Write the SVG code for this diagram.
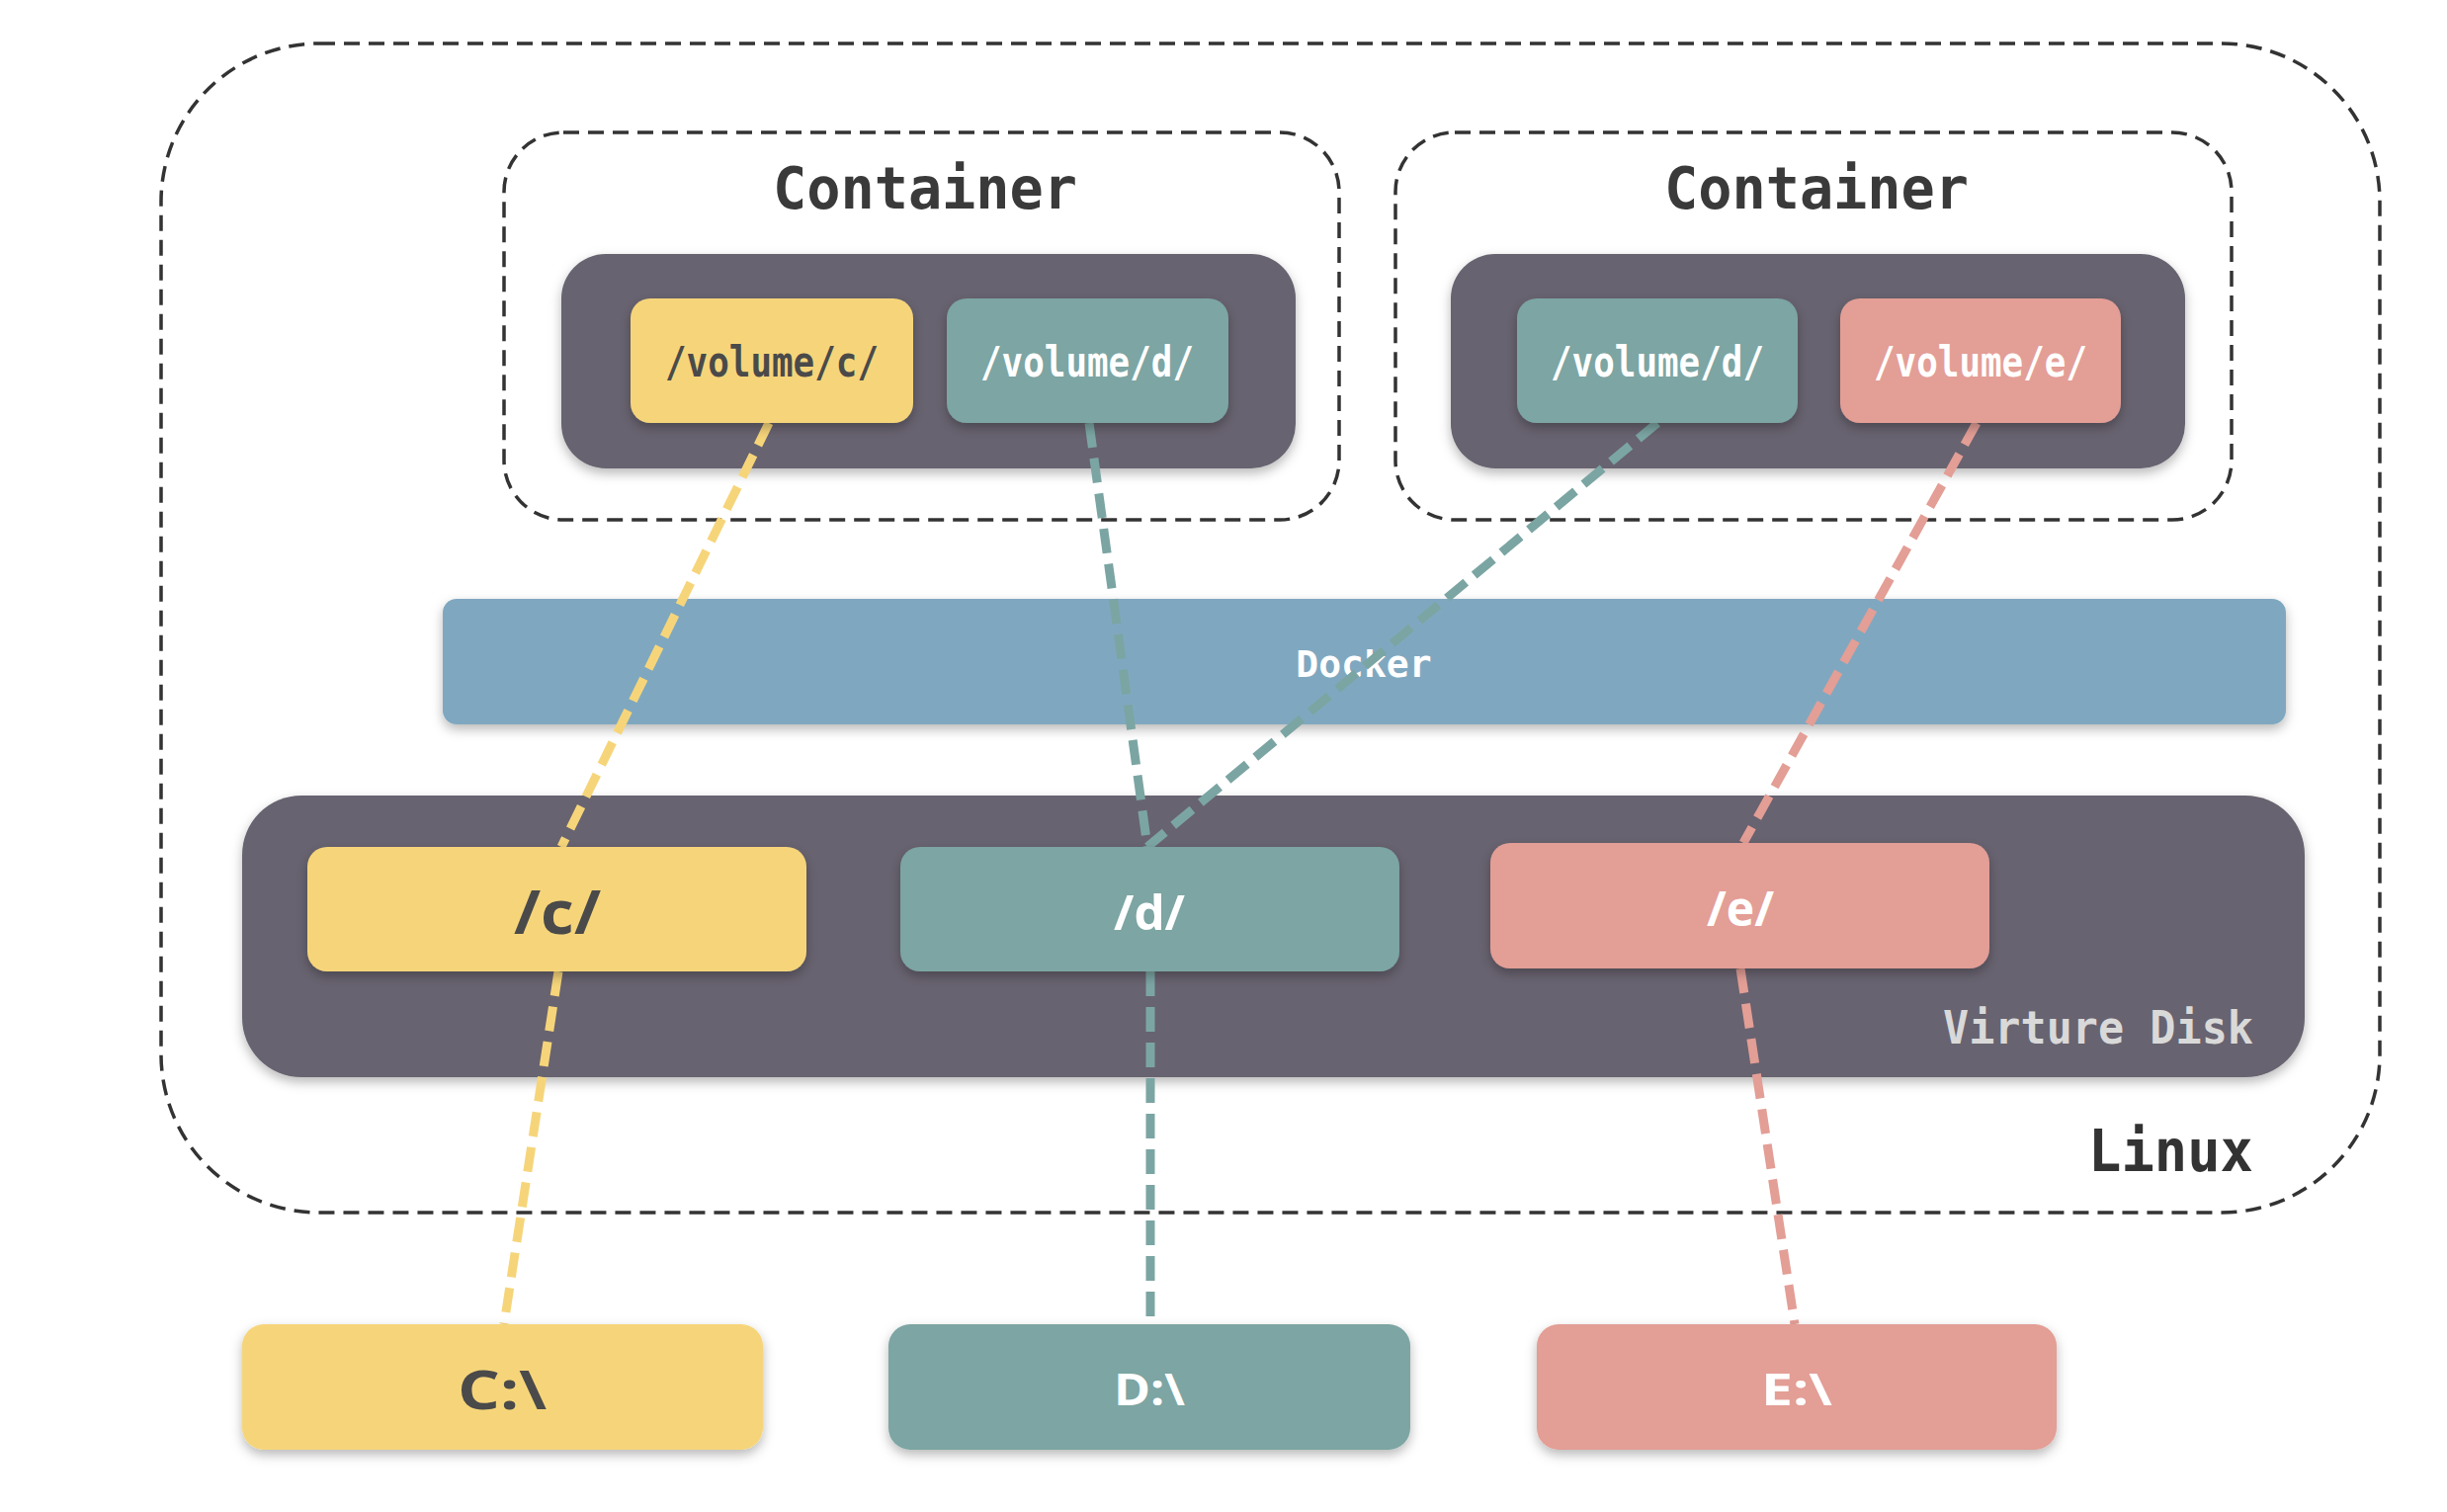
<svg xmlns="http://www.w3.org/2000/svg" width="2476" height="1530" viewBox="0 0 2476 1530">
<defs>
<filter id="sh" x="-10%" y="-20%" width="120%" height="150%">
<feDropShadow dx="0" dy="5" stdDeviation="6" flood-color="#000" flood-opacity="0.28"/>
</filter>
<style>
.outline{fill:none;stroke:#333;stroke-width:3.5;stroke-dasharray:16 9}
.dark{fill:#67646f}
.yel{fill:#f6d57a}
.teal{fill:#7ba5a3}
.pink{fill:#e39e96}
.dock{fill:#7fa8c0}
.mono{font-family:"DejaVu Sans Mono","Liberation Mono",monospace;font-weight:bold}
.sans{font-family:"Open Sans","Liberation Sans",sans-serif;font-weight:bold}
.c{stroke-width:9;stroke-dasharray:25 11;fill:none}
.cy{stroke:#f6d57a}.ct{stroke:#7ba5a3}.cp{stroke:#e39e96}
</style>
</defs>
<rect width="2476" height="1530" fill="#fff"/>

<g id="linux">
<rect class="outline" x="163" y="44" width="2245" height="1183" rx="160"/>
<text class="mono" x="2280" y="1185" font-size="58" fill="#333" text-anchor="end" textLength="167" lengthAdjust="spacingAndGlyphs">Linux</text>
</g>

<g id="container1">
<rect class="outline" x="510" y="134" width="845" height="392" rx="60"/>
<text class="mono" x="936" y="211" font-size="58" fill="#3a3a3a" text-anchor="middle" textLength="308" lengthAdjust="spacingAndGlyphs">Container</text>
<rect class="dark" x="568" y="257" width="743" height="217" rx="45" filter="url(#sh)"/>
</g>

<g id="container2">
<rect class="outline" x="1412" y="134" width="846" height="392" rx="60"/>
<text class="mono" x="1838" y="211" font-size="58" fill="#3a3a3a" text-anchor="middle" textLength="308" lengthAdjust="spacingAndGlyphs">Container</text>
<rect class="dark" x="1468" y="257" width="743" height="217" rx="45" filter="url(#sh)"/>
</g>

<g id="docker">
<rect class="dock" x="448" y="606" width="1865" height="127" rx="14" filter="url(#sh)"/>
<text class="mono" x="1380" y="672" font-size="38" fill="#fff" text-anchor="middle" dominant-baseline="central">Docker</text>
</g>

<g id="virtual-disk">
<rect class="dark" x="245" y="805" width="2087" height="285" rx="60" filter="url(#sh)"/>
<text class="mono" x="2280" y="1056" font-size="46" fill="#d9d9d9" text-anchor="end" textLength="314" lengthAdjust="spacingAndGlyphs">Virture Disk</text>
</g>

<g id="connectors">
<line class="c cy" x1="778" y1="428" x2="568" y2="857"/>
<line class="c cy" x1="565" y1="983" x2="510" y2="1340"/>
<line class="c ct" x1="1102" y1="428" x2="1161" y2="857"/>
<line class="c ct" x1="1677" y1="428" x2="1161" y2="857"/>
<line class="c ct" x1="1164" y1="983" x2="1164" y2="1340"/>
<line class="c cp" x1="2000" y1="428" x2="1764" y2="853"/>
<line class="c cp" x1="1761" y1="980" x2="1816" y2="1340"/>
</g>

<g id="vol-c1">
<rect class="yel" x="638" y="302" width="286" height="126" rx="20" filter="url(#sh)"/>
<text class="mono" x="781" y="366" font-size="42" fill="#4a4a4a" text-anchor="middle" dominant-baseline="central" textLength="216" lengthAdjust="spacingAndGlyphs">/volume/c/</text>
</g>
<g id="vol-d1">
<rect class="teal" x="958" y="302" width="285" height="126" rx="20" filter="url(#sh)"/>
<text class="mono" x="1100" y="366" font-size="42" fill="#fff" text-anchor="middle" dominant-baseline="central" textLength="216" lengthAdjust="spacingAndGlyphs">/volume/d/</text>
</g>
<g id="vol-d2">
<rect class="teal" x="1535" y="302" width="284" height="126" rx="20" filter="url(#sh)"/>
<text class="mono" x="1677" y="366" font-size="42" fill="#fff" text-anchor="middle" dominant-baseline="central" textLength="216" lengthAdjust="spacingAndGlyphs">/volume/d/</text>
</g>
<g id="vol-e2">
<rect class="pink" x="1862" y="302" width="284" height="126" rx="20" filter="url(#sh)"/>
<text class="mono" x="2004" y="366" font-size="42" fill="#fff" text-anchor="middle" dominant-baseline="central" textLength="216" lengthAdjust="spacingAndGlyphs">/volume/e/</text>
</g>

<g id="disk-c">
<rect class="yel" x="311" y="857" width="505" height="126" rx="20" filter="url(#sh)"/>
<text class="sans" x="564" y="922" font-size="60" fill="#4a4a4a" text-anchor="middle" dominant-baseline="central" textLength="88" lengthAdjust="spacingAndGlyphs">/c/</text>
</g>
<g id="disk-d">
<rect class="teal" x="911" y="857" width="505" height="126" rx="20" filter="url(#sh)"/>
<text class="sans" x="1163" y="922" font-size="48" fill="#fff" text-anchor="middle" dominant-baseline="central" textLength="72" lengthAdjust="spacingAndGlyphs">/d/</text>
</g>
<g id="disk-e">
<rect class="pink" x="1508" y="853" width="505" height="127" rx="20" filter="url(#sh)"/>
<text class="sans" x="1761" y="918" font-size="48" fill="#fff" text-anchor="middle" dominant-baseline="central" textLength="68" lengthAdjust="spacingAndGlyphs">/e/</text>
</g>

<g id="drive-c">
<rect class="yel" x="245" y="1340" width="527" height="127" rx="22" filter="url(#sh)"/>
<text class="sans" x="508" y="1405" font-size="54" fill="#4a4a4a" text-anchor="middle" dominant-baseline="central" textLength="90" lengthAdjust="spacingAndGlyphs">C:\</text>
</g>
<g id="drive-d">
<rect class="teal" x="899" y="1340" width="528" height="127" rx="22" filter="url(#sh)"/>
<text class="sans" x="1163" y="1405" font-size="44" fill="#fff" text-anchor="middle" dominant-baseline="central" textLength="72" lengthAdjust="spacingAndGlyphs">D:\</text>
</g>
<g id="drive-e">
<rect class="pink" x="1555" y="1340" width="526" height="127" rx="22" filter="url(#sh)"/>
<text class="sans" x="1818" y="1405" font-size="44" fill="#fff" text-anchor="middle" dominant-baseline="central" textLength="72" lengthAdjust="spacingAndGlyphs">E:\</text>
</g>
</svg>
